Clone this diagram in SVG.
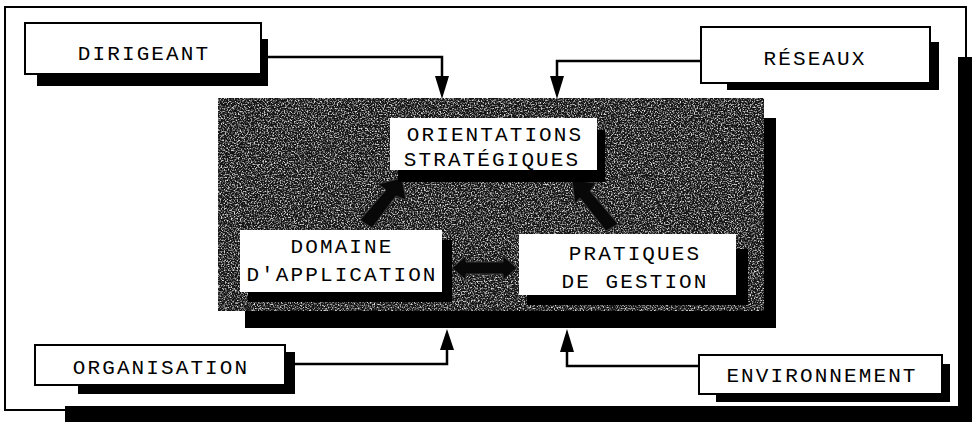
<svg xmlns="http://www.w3.org/2000/svg" width="979" height="424" viewBox="0 0 979 424">
<style>
.box{fill:#fff;stroke:#000;stroke-width:2}
.inbox{fill:#fff}
.sh{fill:#000}
.t{font-family:"Liberation Mono","Courier New",monospace;font-size:21px;letter-spacing:2.1px;fill:#000;text-anchor:middle}
.ln{fill:none;stroke:#000;stroke-width:2.5}
.ah{fill:#000}
.blk{fill:#080808;stroke:#3a3a3a;stroke-width:1}
</style>
<defs>
<filter id="noise" x="0" y="0" width="100%" height="100%">
<feTurbulence type="fractalNoise" baseFrequency="0.7" numOctaves="2" seed="7"/>
<feColorMatrix type="matrix" values="0 0 0 0 0.7  0 0 0 0 0.7  0 0 0 0 0.7  3.4 0 0 0 -1.55"/>
</filter>
</defs>

<g id="frame">
<rect x="5" y="7" width="961" height="403" fill="#fff" stroke="#000" stroke-width="2"/>
<rect class="sh" x="958" y="57" width="14" height="364"/>
<rect class="sh" x="65" y="406" width="907" height="16"/>
</g>

<g id="centre">
<rect class="sh" x="764" y="118" width="12" height="210"/>
<rect class="sh" x="245" y="311" width="531" height="17"/>
<rect x="218" y="98" width="546" height="213" fill="#141414"/>
<rect x="218" y="98" width="546" height="213" fill="#fff" filter="url(#noise)"/>
</g>

<g id="connectors">
<polyline class="ln" points="268,57 442,57 442,80"/>
<polygon class="ah" points="435,76 449,76 442,99"/>
<polyline class="ln" points="701,61 557,61 557,80"/>
<polygon class="ah" points="550,76 564,76 557,99"/>
<polyline class="ln" points="295,364 447,364 447,345"/>
<polygon class="ah" points="440,350 454,350 447,329"/>
<polyline class="ln" points="699,366 567,366 567,348"/>
<polygon class="ah" points="560,352 574,352 567,329"/>
<polygon class="blk" points="402,178 406,200 396,196 372,228 360,220 386,190 378,184"/>
<polygon class="blk" points="572,180 596,183 590,191 618,224 606,231 580,198 575,204"/>
<polygon class="blk" points="452,268 466,256 466,262 503,262 503,256 517,268 503,280 503,274 466,274 466,280"/>
</g>

<g id="dirigeant">
<rect class="sh" x="37" y="39" width="231" height="47"/>
<rect class="box" x="25" y="23" width="236" height="51"/>
<text class="t" x="144" y="60">DIRIGEANT</text>
</g>

<g id="reseaux">
<rect class="sh" x="727" y="42" width="212" height="48"/>
<rect class="box" x="701" y="27" width="229" height="56"/>
<text class="t" x="815" y="65">RÉSEAUX</text>
</g>

<g id="orientations">
<rect class="sh" x="398" y="130" width="207" height="52"/>
<rect class="inbox" x="390" y="118" width="207" height="52"/>
<text class="t" x="495" y="141">ORIENTATIONS</text>
<text class="t" x="492" y="166">STRATÉGIQUES</text>
</g>

<g id="domaine">
<rect class="sh" x="248" y="240" width="204" height="62"/>
<rect class="inbox" x="240" y="230" width="202" height="62"/>
<text class="t" x="342" y="253">DOMAINE</text>
<text class="t" x="342" y="281">D'APPLICATION</text>
</g>

<g id="pratiques">
<rect class="sh" x="527" y="249" width="221" height="56"/>
<rect class="inbox" x="519" y="234" width="217" height="61"/>
<text class="t" x="635" y="260">PRATIQUES</text>
<text class="t" x="635" y="288">DE GESTION</text>
</g>

<g id="organisation">
<rect class="sh" x="78" y="352" width="217" height="42"/>
<rect class="box" x="35" y="345" width="250" height="40"/>
<text class="t" x="161" y="374">ORGANISATION</text>
</g>

<g id="environnement">
<rect class="sh" x="716" y="364" width="234" height="38"/>
<rect class="box" x="699" y="355" width="243" height="39"/>
<text class="t" x="822" y="382">ENVIRONNEMENT</text>
</g>
</svg>
